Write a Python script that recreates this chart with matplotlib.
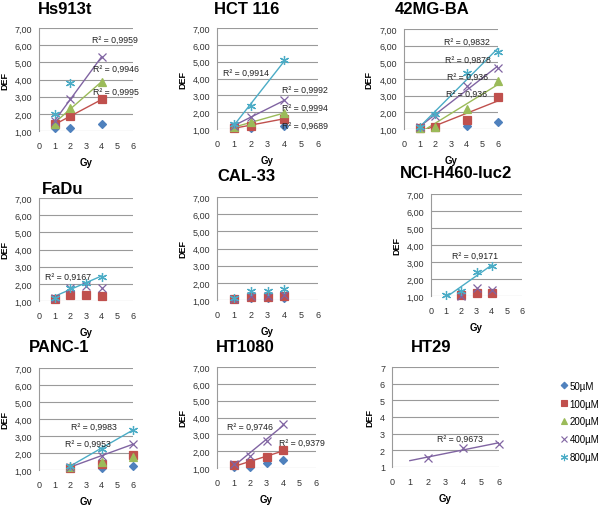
import matplotlib
matplotlib.use("Agg")
import matplotlib.pyplot as plt
from matplotlib.lines import Line2D
import numpy as np

plt.rcParams['font.family'] = ['Liberation Sans', 'DejaVu Sans']

nan = np.nan
conc = ['50µM', '100µM', '200µM', '400µM', '800µM']
colors = ['#4F81BD', '#C0504D', '#9BBB59', '#8064A2', '#4BACC6']
markers = ['D', 's', '^', 'x', (6, 2, 0)]
msizes = [4.2, 5.3, 5.2, 5.5, 6.5]

# DEF values per cell line, one row per concentration
hs913t_gy = [1, 2, 4]
hs913t = [[1.20, 1.20, 1.43], [1.39, 1.85, 2.84], [1.43, 2.36, 3.85],
          [1.60, 2.84, 5.33], [2.01, 3.82, nan]]
hs913t_fit = [1, 2, 3]
hs913t_r2 = ['0,9995', '0,9946', '0,9959']

hct116_gy = [1, 2, 4]
hct116 = [[1.20, 1.05, 1.20], [1.06, 1.20, 1.62], [1.10, 1.40, 1.95],
          [1.20, 1.70, 2.70], [1.30, 2.35, 5.08]]
hct116_fit = [1, 2, 3, 4]
hct116_r2 = ['0,9689', '0,9994', '0,9992', '0,9914']

mg42_gy = [1, 2, 4, 6]
mg42 = [[1.06, 1.10, 1.16, 1.44], [1.06, 1.10, 1.56, 2.94], [1.06, 1.14, 2.20, 3.90],
        [1.10, 1.80, 3.60, 4.64], [1.10, 1.90, 4.36, 5.64]]
mg42_fit = [1, 2, 3, 4]
mg42_r2 = ['0,936', '0,936', '0,9878', '0,9832']

fadu_gy = [1, 2, 3, 4]
fadu = [[nan] * 4, [1.14, 1.35, 1.35, 1.27], [nan] * 4,
        [1.20, 1.78, 1.87, 1.78], [1.20, 1.78, 2.07, 2.42]]
fadu_fit = [4]
fadu_r2 = ['0,9167']

cal33_gy = [1, 2, 3, 4]
cal33 = [[1.05, 1.10, 1.12, 1.14], [1.06, 1.16, 1.20, 1.21], [nan] * 4,
         [1.06, 1.25, 1.25, 1.30], [1.10, 1.50, 1.50, 1.64]]
cal33_fit = []
cal33_r2 = []

nci_gy = [1, 2, 3, 4]
nci = [[nan] * 4, [nan, 1.06, 1.16, 1.16], [nan] * 4,
       [nan, 1.02, 1.50, 1.37], [1.06, 1.27, 2.39, 2.78]]
nci_fit = [4]
nci_r2 = ['0,9171']

panc1_gy = [2, 4, 6]
panc1 = [[1.10, 1.10, 1.26], [1.10, 1.35, 1.89], [1.15, 1.45, 1.75],
         [1.20, 1.80, 2.54], [1.26, 2.24, 3.38]]
panc1_fit = [3, 4]
panc1_r2 = ['0,9953', '0,9983']

ht1080_gy = [1, 2, 3, 4]
ht1080 = [[1.04, 1.08, 1.30, 1.50], [1.18, 1.28, 1.64, 2.09], [nan] * 4,
          [1.24, 1.74, 2.63, 3.62], [nan] * 4]
ht1080_fit = [1, 3]
ht1080_r2 = ['0,9379', '0,9746']

ht29_gy = [2, 4, 6]
ht29 = [[nan] * 3, [nan] * 3, [nan] * 3, [1.54, 2.14, 2.40], [nan] * 3]
ht29_fit = [3]
ht29_r2 = ['0,9673']

W, H = 600, 506
fig = plt.figure(figsize=(W / 100, H / 100), dpi=100)


def fx(px):
    return px / W


def fy(py):
    return 1 - py / H


def panel(title, gy, vals, fit, r2, box, title_xy, r2_xy, intfmt=False, fit_from=None):
    l, t, r, b = box
    ax = fig.add_axes([fx(l), fy(b), (r - l) / W, (b - t) / H])
    ax.set_xlim(0, 6)
    ax.set_ylim(1, 7)
    ax.set_xticks(range(7))
    ax.set_yticks(range(1, 8))
    if intfmt:
        ax.set_yticklabels([str(v) for v in range(1, 8)])
    else:
        ax.set_yticklabels([f'{v:.2f}'.replace('.', ',') for v in range(1, 8)])
    ax.tick_params(length=0, labelsize=6.5, colors='#333333')
    ax.tick_params(axis='x', pad=7)
    ax.tick_params(axis='y', pad=5)
    for s in ['top', 'right', 'bottom']:
        ax.spines[s].set_visible(False)
    ax.spines['left'].set_color('#9a9a9a')
    ax.spines['left'].set_linewidth(0.8)
    ax.yaxis.grid(True, color='#9a9a9a', linewidth=0.8)
    ax.set_axisbelow(True)
    ax.set_xlabel('Gy', fontsize=7, fontweight='bold', labelpad=5)
    ax.set_ylabel('DEF', fontsize=6.5, fontweight='bold', labelpad=4)
    gy = np.array(gy, dtype=float)
    for i, row in enumerate(vals):
        row = np.array(row, dtype=float)
        ax.plot(gy, row, linestyle='none', marker=markers[i], color=colors[i],
                markersize=msizes[i], markeredgewidth=0.9, clip_on=False, zorder=3)
    for k, i in enumerate(fit):
        row = np.array(vals[i], dtype=float)
        ok = ~np.isnan(row)
        m, c = np.polyfit(gy[ok], row[ok], 1)
        x0 = gy[ok].min() if fit_from is None else fit_from
        xs = np.array([x0, gy[ok].max()])
        ax.plot(xs, m * xs + c, color=colors[i], linewidth=1.0, zorder=2)
        lx, ly = r2_xy[k]
        fig.text(fx(lx), fy(ly), 'R² = ' + r2[k], fontsize=6.3, ha='left', va='center',
                 color='#222222')
    fig.text(fx(title_xy[0]), fy(title_xy[1]), title, fontsize=12, fontweight='bold',
             ha='center', va='center')
    return ax


panel('Hs913t', hs913t_gy, hs913t, hs913t_fit, hs913t_r2, (39, 29, 133, 132), (65, 9),
      [(93, 92), (93, 69), (92, 40)])
panel('HCT 116', hct116_gy, hct116, hct116_fit, hct116_r2, (217, 29, 318, 130), (247, 9),
      [(282, 126), (282, 108), (282, 90), (223, 73)])
panel('42MG-BA', mg42_gy, mg42, mg42_fit, mg42_r2, (404, 30, 498, 130), (432, 9),
      [(446, 94), (447, 77), (445, 60), (444, 42)])
panel('FaDu', fadu_gy, fadu, fadu_fit, fadu_r2, (39, 199, 133, 302), (63, 190),
      [(45, 277)])
panel('CAL-33', cal33_gy, cal33, cal33_fit, cal33_r2, (217, 198, 318, 301), (246, 177), [])
panel('NCI-H460-luc2', nci_gy, nci, nci_fit, nci_r2, (431, 195, 522, 297), (456, 174),
      [(452, 256)])
panel('PANC-1', panc1_gy, panc1, panc1_fit, panc1_r2, (39, 369, 133, 471), (59, 348),
      [(65, 444), (71, 427)])
panel('HT1080', ht1080_gy, ht1080, ht1080_fit, ht1080_r2, (217, 368, 316, 469), (245, 347),
      [(279, 443), (227, 427)])
panel('HT29', ht29_gy, ht29, ht29_fit, ht29_r2, (392, 368, 499, 468), (431, 347),
      [(437, 439)], intfmt=True, fit_from=1)

handles = [Line2D([], [], linestyle='none', marker=markers[i], color=colors[i],
                  markersize=msizes[i] * 0.8, markeredgewidth=0.8) for i in range(5)]
fig.legend(handles, conc, loc='upper left', bbox_to_anchor=(fx(555), fy(377)),
           frameon=False, fontsize=7, handlelength=0.8, handletextpad=0.2,
           labelspacing=0.8, borderpad=0)

fig.savefig('out.png', dpi=100)
